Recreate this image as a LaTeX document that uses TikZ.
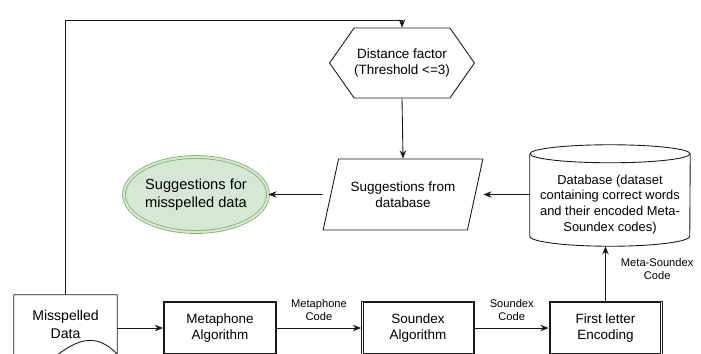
\documentclass[tikz,border=0pt]{standalone}
\usepackage{fontspec}
\setmainfont{Liberation Sans}
\usetikzlibrary{shapes.geometric,shapes.symbols,arrows.meta,calc,positioning}

\begin{document}
\begin{tikzpicture}
% Meta-Soundex suggestion flow, laid out on a pixel grid
\def\pxsz{0.03cm}
\providecommand{\flowLineColor}{black!90}
\providecommand{\flowLineWidth}{0.75pt}
\providecommand{\flowBoxGap}{1.6pt}
\definecolor{suggestFill}{HTML}{D5E8D4}
\definecolor{suggestDraw}{HTML}{82B366}
\begin{scope}[x=\pxsz, y=-\pxsz, line join=round,
    every node/.style={align=center, inner sep=0pt, font=\fontsize{11.5}{13.5}\selectfont},
    flowarrow/.style={draw=\flowLineColor, line width=\flowLineWidth, -{Stealth[length=7pt,width=5.5pt]}},
    flowline/.style={draw=\flowLineColor, line width=\flowLineWidth},
    algobox/.style={rectangle, draw=\flowLineColor, line width=\flowLineWidth,
      minimum width=113*\pxsz, minimum height=54*\pxsz},
    hexbox/.style={signal, signal to=west and east, signal pointer angle=110, draw=\flowLineColor,
      line width=\flowLineWidth, minimum width=113*\pxsz, minimum height=70*\pxsz},
    iobox/.style={trapezium, trapezium left angle=64, trapezium right angle=116, trapezium stretches=true,
      draw=\flowLineColor, line width=\flowLineWidth, minimum width=160*\pxsz, minimum height=71*\pxsz},
    goalbox/.style={ellipse, draw=suggestDraw, line width=0.7pt, double=suggestFill, double distance=1.8pt,
      fill=suggestFill, minimum width=141*\pxsz, minimum height=75*\pxsz, font=\fontsize{12.5}{15}\selectfont},
    codelabel/.style={font=\fontsize{9.5}{11}\selectfont}]
  % Page frame
  \useasboundingbox (0,0) rectangle (701,353);
  % Nodes
  \node[hexbox] (distance) at (402,63) {Distance factor\\(Threshold <=3)};
  \node[iobox] (fromdb) at (403,194.5) {Suggestions from\\database};
  \node[goalbox] (suggestions) at (196,194.5) {Suggestions for\\misspelled data};
  \node[minimum width=160*\pxsz, minimum height=83*\pxsz, font=\fontsize{11}{13.5}\selectfont] (database) at (610,204.5)
    {Database (dataset\\containing correct words\\and their encoded Meta-\\Soundex codes)};
  \node[minimum width=103*\pxsz, minimum height=59*\pxsz, font=\fontsize{12}{15}\selectfont] (misspelled) at (65.5,324.5)
    {Misspelled\\Data};
  \node[algobox] (metaphone) at (220,328) {Metaphone\\Algorithm};
  \node[algobox] (soundex) at (418,328) {Soundex\\Algorithm};
  \node[algobox] (firstletter) at (605.5,328) {First letter\\Encoding};
  \coordinate (topbend) at (65.5,20);
  % Inner frame of the algorithm boxes
  \foreach \algo in {metaphone,soundex,firstletter}
    \draw[flowline] ([shift={(\flowBoxGap,-\flowBoxGap)}]\algo.north west)
      rectangle ([shift={(-\flowBoxGap,\flowBoxGap)}]\algo.south east);
  % Document outline with wavy bottom
  \draw[flowline] (misspelled.south west) -- (misspelled.north west) -- (misspelled.north east)
    -- (misspelled.south east)
    .. controls ($(misspelled.south east)+(-45,-48)$) and ($(misspelled.south west)+(25,48)$) .. (misspelled.south west);
  % Cylinder outline
  \draw[flowline] ($(database.north west)+(0,-9)$) -- ($(database.south west)+(0,-10)$)
    arc[start angle=180, end angle=0, x radius=80, y radius=10] -- ($(database.north east)+(0,-9)$);
  \draw[flowline] ($(database.north)+(0,-9)$) ellipse[x radius=80, y radius=9];
  % Connectors
  \draw[flowarrow] (misspelled.north) -- (topbend) -| (distance.north);
  \draw[flowarrow] (distance.south) -- (fromdb.north);
  \draw[flowarrow] (fromdb.bottom left corner |- fromdb.west) -- (suggestions.east);
  \draw[flowarrow] (database.west |- fromdb.east) -- (fromdb.top right corner |- fromdb.east);
  \draw[flowarrow] (misspelled.east |- metaphone.west) -- (metaphone.west);
  \draw[flowarrow] (metaphone.east) -- (soundex.west)
    node[codelabel, midway, above=0.2cm] (metacode) {Metaphone\\Code};
  \draw[flowarrow] (soundex.east) -- (firstletter.west)
    node[codelabel, midway, above=0.2cm] (soundcode) {Soundex\\Code};
  \draw[flowarrow] (firstletter.north) -- (firstletter.north |- database.south)
    node[codelabel, pos=0.58, right=0.45cm] (metasoundcode) {Meta-Soundex\\Code};
\end{scope}
\end{tikzpicture}
\end{document}
